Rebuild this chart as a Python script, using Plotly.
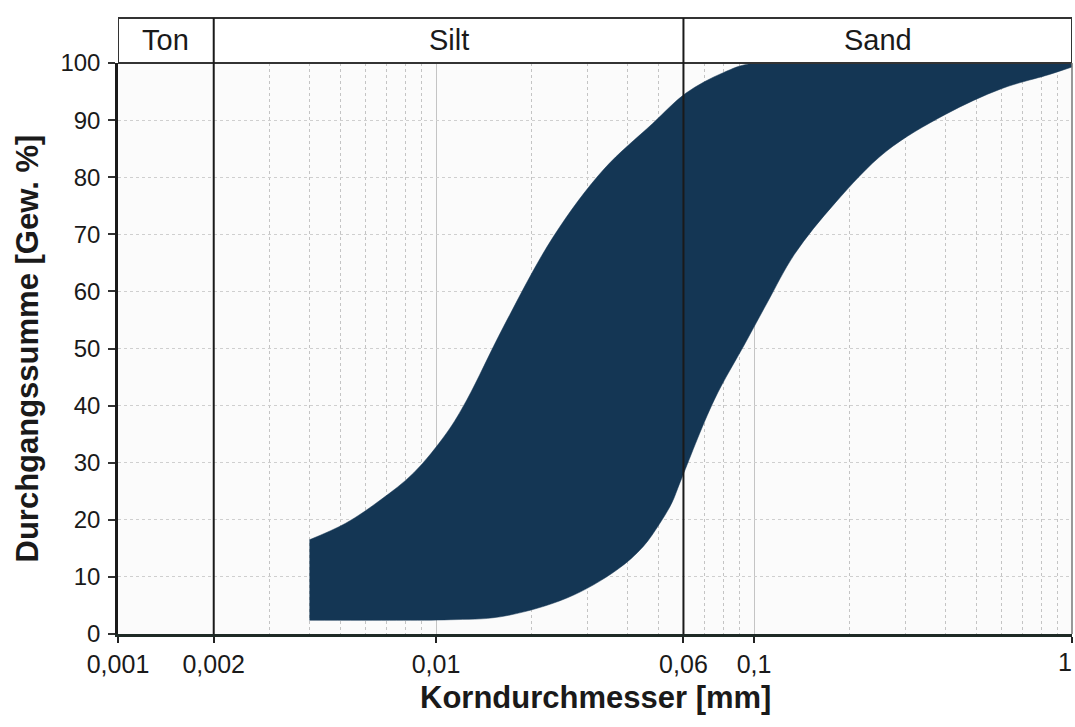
import math
import plotly.graph_objects as go

# Upper boundary of the grain-size band (finer side)
grain_upper_mm = [0.004, 0.0052, 0.0067, 0.0085, 0.0108, 0.0125, 0.0163, 0.0234,
                  0.0336, 0.048, 0.061, 0.08, 0.1, 1.0]
passing_upper = [16.5, 19.4, 23.5, 28.2, 35.2, 41.0, 53.8, 69.6,
                 81.3, 89.4, 94.7, 98.3, 100.0, 100.0]

# Lower boundary of the grain-size band (coarser side)
grain_lower_mm = [0.004, 0.0075, 0.0111, 0.0159, 0.0258, 0.037, 0.0448, 0.0506,
                  0.0552, 0.0585, 0.075, 0.094, 0.11, 0.134, 0.18, 0.26,
                  0.4, 0.6, 0.85, 1.0]
passing_lower = [2.4, 2.4, 2.5, 3.0, 6.3, 11.2, 15.3, 19.4,
                 23.0, 26.5, 41.0, 51.0, 58.0, 66.5, 75.5, 84.5,
                 91.0, 95.5, 98.0, 99.3]

x_tick_vals = [0.001, 0.002, 0.01, 0.06, 0.1, 1]
x_tick_text = ["0,001", "0,002", "0,01", "0,06", "0,1", "1"]
x_minor_vals = [0.003, 0.004, 0.005, 0.006, 0.007, 0.008, 0.009,
                0.02, 0.03, 0.04, 0.05, 0.07, 0.08, 0.09,
                0.2, 0.3, 0.4, 0.5, 0.6, 0.7, 0.8, 0.9]
y_tick_vals = [0, 10, 20, 30, 40, 50, 60, 70, 80, 90, 100]

zone_names = ["Ton", "Silt", "Sand"]
zone_bounds = [0.001, 0.002, 0.06, 1.0]

BAND = "#143654"
FONT = "Liberation Sans, Arial, sans-serif"
TXT = "#1a1a1a"

fig = go.Figure()
fig.add_trace(go.Scatter(x=grain_lower_mm, y=passing_lower, mode="lines",
                         line=dict(color=BAND, width=0.5, shape="spline", smoothing=1.0),
                         hoverinfo="skip", showlegend=False))
fig.add_trace(go.Scatter(x=grain_upper_mm, y=passing_upper, mode="lines",
                         line=dict(color=BAND, width=0.5, shape="spline", smoothing=1.0),
                         fill="tonexty", fillcolor=BAND,
                         hoverinfo="skip", showlegend=False))

H_TOP = 1 + 45 / 571  # header box height in paper units

shapes = []
shapes.append(dict(type="rect", xref="x", yref="paper", x0=zone_bounds[0], x1=zone_bounds[-1],
                   y0=1, y1=H_TOP, line=dict(color="#333333", width=2), fillcolor="white",
                   layer="above"))
for b in zone_bounds[1:-1]:
    shapes.append(dict(type="line", xref="x", yref="paper", x0=b, x1=b, y0=0, y1=H_TOP,
                       line=dict(color="#1a1a1a", width=2), layer="above"))
shapes.append(dict(type="line", xref="paper", yref="paper", x0=1, x1=1, y0=0, y1=1,
                   line=dict(color="#777777", width=1.5), layer="above"))

annotations = []
for i, name in enumerate(zone_names):
    xm = math.sqrt(zone_bounds[i] * zone_bounds[i + 1])
    annotations.append(dict(x=math.log10(xm), xref="x", y=(1 + H_TOP) / 2, yref="paper",
                            text=name, showarrow=False, xanchor="center", yanchor="middle",
                            font=dict(family=FONT, size=29, color=TXT)))
annotations.append(dict(x=0, xref="paper", y=0.5, yref="paper", xshift=-91,
                        text="<b>Durchgangssumme [Gew. %]</b>", textangle=-90,
                        showarrow=False, xanchor="center", yanchor="middle",
                        font=dict(family=FONT, size=31, color=TXT)))
annotations.append(dict(x=0.5, xref="paper", y=0, yref="paper", yshift=-63,
                        text="<b>Korndurchmesser [mm]</b>",
                        showarrow=False, xanchor="center", yanchor="middle",
                        font=dict(family=FONT, size=31, color=TXT)))
# last tick label at the right edge, kept inside the page
annotations.append(dict(x=math.log10(x_tick_vals[-1]), xref="x", y=0, yref="paper",
                        yshift=-28, xshift=2, text=x_tick_text[-1], showarrow=False,
                        xanchor="right", yanchor="middle",
                        font=dict(family=FONT, size=25, color=TXT)))

fig.update_layout(
    width=1075, height=727,
    margin=dict(l=118, r=3, t=63, b=93, autoexpand=False),
    paper_bgcolor="white", plot_bgcolor="#fbfbfb",
    font=dict(family=FONT, size=24, color=TXT),
    shapes=shapes, annotations=annotations,
    xaxis=dict(type="log", range=[-3, 0], tickmode="array", tickvals=x_tick_vals,
               ticktext=x_tick_text[:-1] + [""], ticks="outside", ticklen=6, tickwidth=1.5,
               tickcolor="#222222", showline=True, linecolor="#1e2a26", linewidth=3,
               showgrid=True, gridcolor="#c4c4c4", gridwidth=1,
               minor=dict(tickmode="array", tickvals=x_minor_vals, showgrid=True,
                          gridcolor="#c4c4c4", griddash="dot", gridwidth=1, ticks=""),
               zeroline=False, automargin=False, ticklabeloverflow="allow",
               tickfont=dict(family=FONT, size=25, color=TXT)),
    yaxis=dict(range=[0, 100], tickmode="array", tickvals=y_tick_vals,
               ticks="outside", ticklen=7, tickwidth=1.5, tickcolor="#333333",
               ticklabelstandoff=3,
               showline=True, linecolor="#1a1a1a", linewidth=2.5,
               showgrid=True, gridcolor="#cfcfcf", gridwidth=1, griddash="dot",
               zeroline=False, automargin=False,
               tickfont=dict(family=FONT, size=24, color=TXT)),
)

fig.write_html("out.html")
